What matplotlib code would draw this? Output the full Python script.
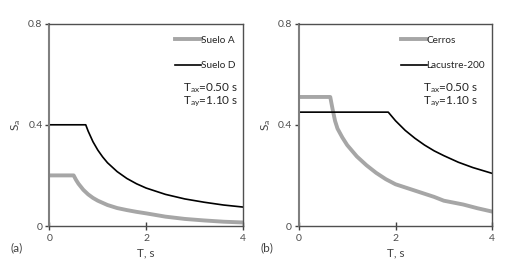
import matplotlib
matplotlib.use('Agg')
import matplotlib.pyplot as plt

plt.rcParams['font.family'] = ['Lato', 'DejaVu Sans']
plt.rcParams['mathtext.fontset'] = 'custom'
plt.rcParams['mathtext.rm'] = 'Lato'
plt.rcParams['mathtext.it'] = 'Lato'

# panel (a)
T_A = [0, 0.5, 0.55, 0.6, 0.7, 0.8, 0.9, 1.0, 1.2, 1.4, 1.6, 1.8, 2.0, 2.4, 2.8, 3.2, 3.6, 4.0]
S_A = [0.20, 0.20, 0.182, 0.167, 0.143, 0.125, 0.111, 0.10, 0.083, 0.071, 0.063, 0.056, 0.05,
       0.037, 0.028, 0.022, 0.017, 0.014]
T_D = [0, 0.75, 0.8, 0.9, 1.0, 1.1, 1.2, 1.4, 1.6, 1.8, 2.0, 2.4, 2.8, 3.2, 3.6, 4.0]
S_D = [0.40, 0.40, 0.375, 0.333, 0.30, 0.273, 0.25, 0.215, 0.188, 0.167, 0.15, 0.125, 0.107,
       0.094, 0.083, 0.075]

# panel (b)
T_C = [0, 0.65, 0.7, 0.75, 0.8, 0.9, 1.0, 1.2, 1.4, 1.6, 1.8, 2.0, 2.4, 2.8, 3.0, 3.4, 3.7, 4.0]
S_C = [0.51, 0.51, 0.46, 0.415, 0.385, 0.35, 0.32, 0.275, 0.24, 0.21, 0.185, 0.165, 0.14,
       0.115, 0.10, 0.085, 0.07, 0.057]
T_L = [0, 1.85, 2.0, 2.2, 2.4, 2.6, 2.8, 3.0, 3.3, 3.6, 4.0]
S_L = [0.45, 0.45, 0.416, 0.378, 0.347, 0.32, 0.297, 0.278, 0.252, 0.231, 0.208]

panels = [
    ('(a)', (T_A, S_A, 'Suelo A'), (T_D, S_D, 'Suelo D')),
    ('(b)', (T_C, S_C, 'Cerros'), (T_L, S_L, 'Lacustre-200')),
]

fig = plt.figure(figsize=(5.17, 2.71), dpi=100)
lefts = [0.0957, 0.578]
txt_x = [0.69, 0.64]

for i, (tag, gray, black) in enumerate(panels):
    ax = fig.add_axes([lefts[i], 0.166, 0.374, 0.747])
    ax.plot(gray[0], gray[1], color='#a6a6a6', lw=2.8, label=gray[2])
    ax.plot(black[0], black[1], color='black', lw=1.2, label=black[2])
    ax.set_xlim(0, 4)
    ax.set_ylim(0, 0.8)
    ax.set_xticks([0, 2, 4])
    ax.set_xticklabels(['0', '2', '4'])
    ax.set_yticks([0, 0.4, 0.8])
    ax.set_yticklabels(['0', '0.4', '0.8'])
    ax.tick_params(axis='x', direction='inout', length=6, width=1,
                   color='#404040', labelsize=7.5, labelcolor='#4d4d4d', pad=3)
    ax.tick_params(axis='y', direction='out', length=3, width=1,
                   color='#404040', labelsize=7.5, labelcolor='#4d4d4d', pad=2)
    for s in ax.spines.values():
        s.set_color('#505050')
        s.set_linewidth(1.0)
    ax.spines['left'].set_color('#808080')
    ax.spines['left'].set_linewidth(1.5)

    leg = ax.legend(loc='upper right', bbox_to_anchor=(1.0, 0.975), frameon=False,
                    fontsize=7.2, handlelength=2.6, handletextpad=0.0,
                    labelspacing=1.65, borderaxespad=0.3)
    for t in leg.get_texts():
        t.set_color('#262626')

    ax.text(txt_x[i], 0.68, r'T$_\mathrm{ax}$=0.50 s', transform=ax.transAxes,
            fontsize=8.5, color='#262626', va='center')
    ax.text(txt_x[i], 0.615, r'T$_\mathrm{ay}$=1.10 s', transform=ax.transAxes,
            fontsize=8.5, color='#262626', va='center')

    ax.set_xlabel('T, s', fontsize=8.5, color='#404040', labelpad=3)
    ax.set_ylabel(r'S$_\mathrm{a}$', fontsize=8.5, color='#404040')
    ax.yaxis.set_label_coords(-0.135, 0.5)
    ax.text(-0.2, -0.11, tag, transform=ax.transAxes, fontsize=8.5,
            color='#404040', va='center')

fig.savefig('out.png', dpi=100)
